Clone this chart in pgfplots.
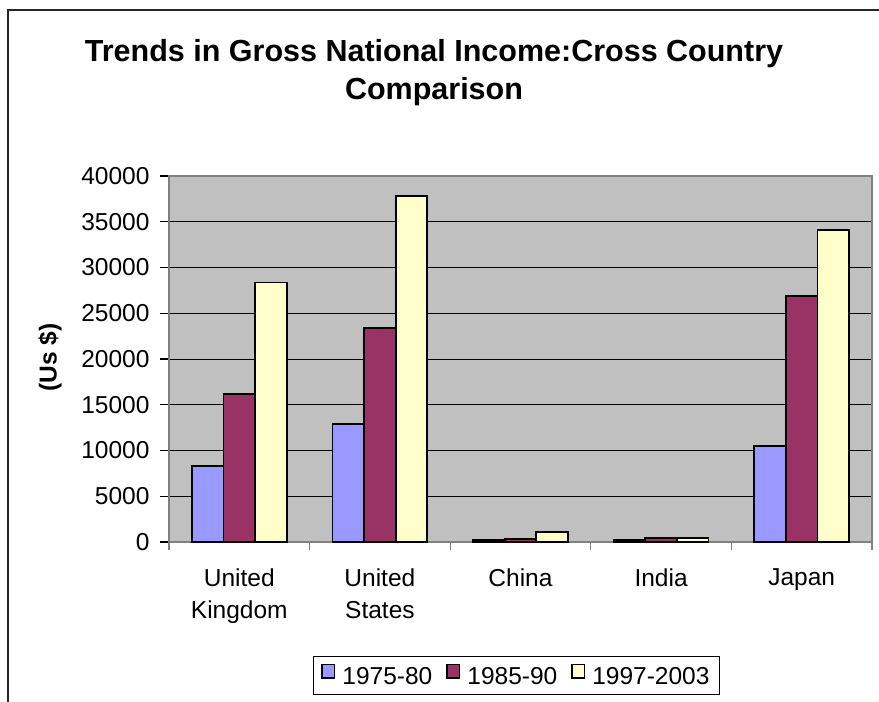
\documentclass[border=0pt]{standalone}
\usepackage{fontspec}
\setmainfont{Liberation Sans}
\usepackage{pgfplots}
\pgfplotsset{compat=1.18}
\definecolor{cblue}{HTML}{9999FF}
\definecolor{cmaroon}{HTML}{993366}
\definecolor{cyellow}{HTML}{FFFFCC}
\definecolor{plotgray}{HTML}{C0C0C0}
\definecolor{bordergray}{HTML}{808080}
\newcommand{\lbl}{\fontsize{24.5}{32}\selectfont}
\begin{document}
\begin{tikzpicture}
\useasboundingbox (0pt,0pt) rectangle (879pt,702pt);
\fill[white] (0pt,0pt) rectangle (879pt,702pt);
\draw[line width=1.3pt, black!85] (8pt,0pt) -- (8pt,692pt) -- (879pt,692pt);
\node[anchor=base, font=\fontsize{30.5}{36}\selectfont\bfseries] at (434pt,640pt) {Trends in Gross National Income:Cross Country};
\node[anchor=base, font=\fontsize{30.5}{36}\selectfont\bfseries] at (434pt,602pt) {Comparison};
\node[rotate=90, font=\fontsize{24.5}{29}\selectfont\bfseries] at (50pt,344.5pt) {(Us \$)};
\begin{axis}[
  at={(169pt,160pt)}, anchor=south west,
  width=703pt, height=366pt, scale only axis,
  xmin=-0.5, xmax=4.5, ymin=0, ymax=40000,
  scaled y ticks=false,
  axis background/.style={fill=plotgray},
  axis line style={bordergray, line width=1.6pt},
  ybar=0pt, bar width=31.6pt,
  ytick={0,5000,10000,15000,20000,25000,30000,35000,40000},
  yticklabels={0,5000,10000,15000,20000,25000,30000,35000,40000},
  ymajorgrids, grid style={black, line width=1pt},
  xtick={0,1,2,3,4},
  xticklabels={{United\\Kingdom},{United\\States},China,India,Japan},
  xtick pos=bottom, ytick pos=left,
  tick align=outside,
  x tick style={draw=none},
  y tick style={black, line width=1.3pt},
  major tick length=9pt,
  extra x ticks={-0.5,0.5,1.5,2.5,3.5,4.5},
  extra x tick labels={},
  extra x tick style={grid=none, x tick style={draw=bordergray, line width=1.3pt}, major tick length=8pt},
  tick label style={font=\lbl},
  xticklabel style={align=center, yshift=-14pt},
  yticklabel style={xshift=-7pt},
  legend columns=3,
  legend style={at={(0.2048,-0.3115)}, anchor=north west, draw=black, line width=1pt,
    font=\lbl, inner xsep=8pt, inner ysep=7pt,
    /tikz/every odd column/.append style={column sep=5pt},
    /tikz/every even column/.append style={column sep=12pt}},
]
\addplot[fill=cblue, draw=black, line width=1.8pt,
  legend image code/.code={\draw[fill=cblue,draw=black,line width=1.4pt] (0.7pt,-1.3pt) rectangle (13.3pt,12.3pt);}]
  coordinates {(0,8300) (1,12900) (2,200) (3,200) (4,10500)};
\addplot[fill=cmaroon, draw=black, line width=1.8pt,
  legend image code/.code={\draw[fill=cmaroon,draw=black,line width=1.4pt] (0.7pt,-1.3pt) rectangle (13.3pt,12.3pt);}]
  coordinates {(0,16150) (1,23350) (2,300) (3,400) (4,26900)};
\addplot[fill=cyellow, draw=black, line width=1.8pt,
  legend image code/.code={\draw[fill=cyellow,draw=black,line width=1.4pt] (0.7pt,-1.3pt) rectangle (13.3pt,12.3pt);}]
  coordinates {(0,28350) (1,37800) (2,1100) (3,450) (4,34100)};
\legend{1975-80,1985-90,1997-2003}
\end{axis}
\end{tikzpicture}
\end{document}
